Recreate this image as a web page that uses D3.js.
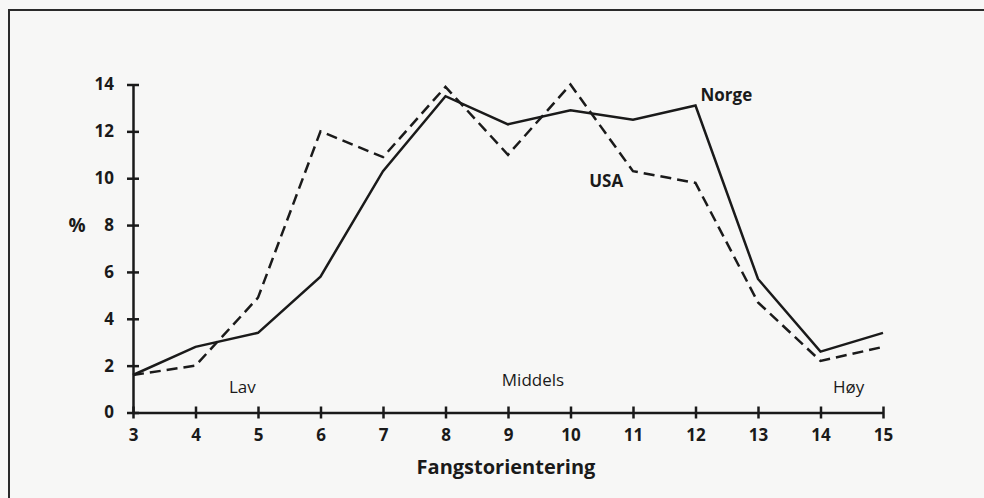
<!DOCTYPE html>
<html>
<head>
<meta charset="utf-8">
<script src="https://cdn.jsdelivr.net/npm/d3@7"></script>
<style>
  body { margin: 0; background: #f7f7f6; }
  svg { display: block; }
  text { font-family: "Open Sans", "DejaVu Sans", sans-serif; fill: #1a1a1a; }
</style>
</head>
<body>
<script>
var width = 984,
    height = 498;

// data
var orientering = [3, 4, 5, 6, 7, 8, 9, 10, 11, 12, 13, 14, 15];
var norge = [1.6, 2.8, 3.4, 5.8, 10.3, 13.5, 12.3, 12.9, 12.5, 13.1, 5.7, 2.6, 3.4];
var usa   = [1.6, 2.0, 4.9, 12.0, 10.9, 13.9, 11.0, 14.0, 10.3, 9.8, 4.7, 2.2, 2.8];
var yTicks = [0, 2, 4, 6, 8, 10, 12, 14];
var levels = [{label: "Lav", x: 4.75, y: 0.83}, {label: "Middels", x: 9.4, y: 1.13}, {label: "Høy", x: 14.45, y: 0.83}];

var svg = d3.select("body").append("svg")
    .attr("width", width)
    .attr("height", height);

// frame round the figure (left and top edges are all that show)
svg.append("path")
    .attr("d", "M9,498 L9,10 L984,10")
    .attr("fill", "none")
    .attr("stroke", "#2a2a2a")
    .attr("stroke-width", 2);

var x = d3.scaleLinear().domain([3, 15]).range([133, 883]);
var y = d3.scaleLinear().domain([0, 14]).range([412.5, 84.5]);

//x axis, ticks cross the line
var xAxis = svg.append("g")
    .attr("transform", "translate(0," + y(0) + ")")
    .call(d3.axisBottom(x).tickValues(orientering).tickSize(6).tickSizeOuter(0).tickPadding(10));
xAxis.selectAll(".tick line").attr("y1", -6).attr("y2", 6);

//y axis
var yAxis = svg.append("g")
    .attr("transform", "translate(" + x(3) + ",0)")
    .call(d3.axisLeft(y).tickValues(yTicks).tickSize(6).tickSizeOuter(0).tickPadding(13));
yAxis.selectAll(".tick line").attr("x1", -6).attr("x2", 6);

svg.selectAll(".domain, .tick line")
    .attr("stroke", "#1a1a1a")
    .attr("stroke-width", 2.5);
svg.selectAll(".tick text")
    .attr("fill", "#1a1a1a")
    .attr("font-family", "Open Sans, DejaVu Sans, sans-serif")
    .attr("font-size", 17)
    .attr("font-weight", 700);

var line = d3.line()
    .x(function(d, i){ return x(orientering[i]); })
    .y(function(d){ return y(d); });

svg.append("path")
    .datum(norge)
    .attr("d", line)
    .attr("fill", "none")
    .attr("stroke", "#1a1a1a")
    .attr("stroke-width", 2.5);

svg.append("path")
    .datum(usa)
    .attr("d", line)
    .attr("fill", "none")
    .attr("stroke", "#1a1a1a")
    .attr("stroke-width", 2.5)
    .attr("stroke-dasharray", "11,6");

//series names
svg.append("text")
    .attr("x", x(12) + 5)
    .attr("y", y(13.3))
    .attr("font-size", 17)
    .attr("font-weight", 700)
    .text("Norge");
svg.append("text")
    .attr("x", x(10.3))
    .attr("y", y(9.62))
    .attr("font-size", 17)
    .attr("font-weight", 700)
    .text("USA");

//orientation levels
svg.selectAll(".level")
    .data(levels).enter()
    .append("text")
    .attr("class", "level")
    .attr("x", function(d){ return x(d.x); })
    .attr("y", function(d){ return y(d.y); })
    .attr("text-anchor", "middle")
    .attr("font-size", 17)
    .text(function(d){ return d.label; });

//axis titles
svg.append("text")
    .attr("x", 77)
    .attr("y", y(8) + 7)
    .attr("text-anchor", "middle")
    .attr("font-size", 19)
    .attr("font-weight", 700)
    .text("%");
svg.append("text")
    .attr("x", 506)
    .attr("y", 474)
    .attr("text-anchor", "middle")
    .attr("font-size", 20)
    .attr("font-weight", 700)
    .text("Fangstorientering");
</script>
</body>
</html>
